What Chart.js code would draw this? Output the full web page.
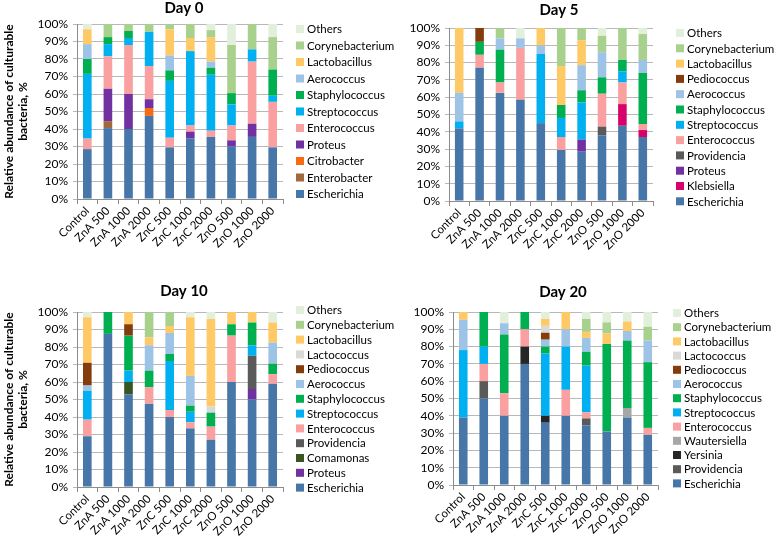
<!DOCTYPE html>
<html>
<head>
<meta charset="utf-8">
<script src="https://cdn.jsdelivr.net/npm/chart.js@4.4.1/dist/chart.umd.min.js"></script>
<style>
  body { margin: 0; background: #fff; width: 778px; height: 545px; position: relative; overflow: hidden; }
  .panel { position: absolute; }
</style>
</head>
<body>
<div class="panel" style="left:0;top:0"><canvas id="day0" width="402" height="272"></canvas></div>
<div class="panel" style="left:390px;top:0"><canvas id="day5" width="388" height="272"></canvas></div>
<div class="panel" style="left:0;top:272px"><canvas id="day10" width="402" height="273"></canvas></div>
<div class="panel" style="left:390px;top:272px"><canvas id="day20" width="388" height="273"></canvas></div>
<script>
// treatments on the x axis
const categories = ["Control", "ZnA 500", "ZnA 1000", "ZnA 2000", "ZnC 500", "ZnC 1000", "ZnC 2000", "ZnO 500", "ZnO 1000", "ZnO 2000"];

// Day 0 - segment sizes (%), bottom to top
const day0Genera = ["Escherichia", "Enterobacter", "Citrobacter", "Proteus", "Enterococcus", "Streptococcus", "Staphylococcus", "Aerococcus", "Lactobacillus", "Corynebacterium", "Others"];
const day0Values = [
  [28.5, 40.5, 40, 47.5, 29.5, 34.5, 35.5, 30, 35.5, 29.5],
  [0, 4, 0, 0, 0, 0, 0, 0, 0, 0],
  [0, 0, 0, 4.5, 0, 0, 0, 0, 0, 0],
  [0, 18.5, 20, 5, 0, 4, 0, 3.5, 7.5, 0],
  [6, 18.5, 28, 19, 5.5, 3.5, 3.5, 8.5, 35.5, 26],
  [37, 7, 4, 19.5, 32.5, 42.5, 32, 12, 7, 3.5],
  [8.5, 4, 4, 0, 6, 0, 4, 6.5, 0, 15],
  [8.5, 0, 0, 0, 8.5, 0, 3.5, 0, 0, 0],
  [8.5, 0, 0, 0, 15, 7.5, 14, 0, 0, 0],
  [0, 7.5, 4, 4.5, 3, 8, 4, 27.5, 14.5, 18.5],
  [3, 0, 0, 0, 0, 0, 3.5, 12, 0, 7.5]
];

// Day 5
const day5Genera = ["Escherichia", "Klebsiella", "Proteus", "Providencia", "Enterococcus", "Streptococcus", "Staphylococcus", "Aerococcus", "Pediococcus", "Lactobacillus", "Corynebacterium", "Others"];
const day5Values = [
  [42, 77, 62.5, 58.5, 45, 29.5, 28.5, 38, 43.5, 37],
  [0, 0, 0, 0, 0, 0, 0, 0, 12.5, 4],
  [0, 0, 0, 0, 0, 0, 7, 0, 0, 0],
  [0, 0, 0, 0, 0, 0, 0, 5, 0, 0],
  [0, 7.5, 6, 30, 0, 7.5, 0, 19, 12.5, 3.5],
  [4, 0, 0, 0, 40, 11, 21.5, 0, 6.5, 0],
  [0, 7.5, 19, 0, 0, 7.5, 7, 9.5, 6.5, 29.5],
  [16.5, 0, 6.5, 5.5, 5, 0, 14.5, 14.5, 0, 7.5],
  [0, 8, 0, 0, 0, 0, 0, 0, 0, 0],
  [37.5, 0, 0, 0, 10, 22.5, 14.5, 0, 0, 0],
  [0, 0, 6, 0, 0, 22, 7, 9.5, 18.5, 15],
  [0, 0, 0, 6, 0, 0, 0, 4.5, 0, 3.5]
];

// Day 10
const day10Genera = ["Escherichia", "Proteus", "Comamonas", "Providencia", "Enterococcus", "Streptococcus", "Staphylococcus", "Aerococcus", "Pediococcus", "Lactococcus", "Lactobacillus", "Corynebacterium", "Others"];
const day10Values = [
  [29, 87.5, 53, 47.5, 40, 33.5, 27, 60, 50, 59],
  [0, 0, 0, 0, 0, 0, 0, 0, 6, 0],
  [0, 0, 7, 0, 0, 0, 0, 0, 0, 0],
  [0, 0, 0, 0, 0, 0, 0, 0, 19, 0],
  [9.5, 0, 0, 9.5, 4, 3.5, 7.5, 26.5, 0, 5.5],
  [16.5, 0, 6.5, 0, 28, 6, 0, 0, 6, 0],
  [0, 12.5, 20, 9.5, 4, 3.5, 8, 6.5, 13, 6],
  [3, 0, 0, 14.5, 12, 17, 0, 0, 0, 12],
  [13, 0, 6.5, 0, 0, 0, 0, 0, 0, 0],
  [0, 0, 0, 0, 0, 0, 3.5, 0, 0, 0],
  [26, 0, 7, 4.5, 4, 33.5, 50, 7, 6, 11.5],
  [0, 0, 0, 14.5, 8, 0, 0, 0, 0, 0],
  [3, 0, 0, 0, 0, 3, 4, 0, 0, 6]
];

// Day 20
const day20Genera = ["Escherichia", "Providencia", "Yersinia", "Wautersiella", "Enterococcus", "Streptococcus", "Staphylococcus", "Aerococcus", "Pediococcus", "Lactococcus", "Lactobacillus", "Corynebacterium", "Others"];
const day20Values = [
  [39, 50, 40, 70, 36, 40, 34.5, 31, 39, 29],
  [0, 10, 0, 0, 0, 0, 4, 0, 0, 0],
  [0, 0, 0, 10, 4, 0, 0, 0, 0, 0],
  [0, 0, 0, 0, 0, 0, 0, 0, 5.5, 0],
  [0, 10, 13, 10, 0, 15, 3.5, 0, 0, 4],
  [39, 10, 0, 0, 36, 25, 27, 0, 0, 0],
  [0, 20, 34, 10, 4, 0, 8, 50.5, 39, 38],
  [17.5, 0, 6.5, 0, 4, 10, 8, 0, 5.5, 12.5],
  [0, 0, 0, 0, 4, 0, 0, 0, 0, 0],
  [0, 0, 0, 0, 4, 0, 0, 0, 0, 0],
  [4.5, 0, 0, 0, 4, 10, 3.5, 6, 5.5, 0],
  [0, 0, 0, 0, 0, 0, 7.5, 6.5, 0, 8],
  [0, 0, 6.5, 0, 4, 0, 4, 6, 5.5, 8.5]
];

const genusColors = {
  Escherichia: "#4677a8",
  Enterobacter: "#a06a3e",
  Citrobacter: "#fa6a10",
  Klebsiella: "#d8006b",
  Proteus: "#7131a1",
  Comamonas: "#375623",
  Providencia: "#5a5a5a",
  Yersinia: "#262626",
  Wautersiella: "#a6a6a6",
  Enterococcus: "#fba0a0",
  Streptococcus: "#00b0f0",
  Staphylococcus: "#00b050",
  Aerococcus: "#9dc3e6",
  Pediococcus: "#843c0c",
  Lactococcus: "#d9d9d9",
  Lactobacillus: "#ffc966",
  Corynebacterium: "#a9d18e",
  Others: "#e2efda"
};

Chart.defaults.font.family = "Lato, 'Open Sans', sans-serif";
Chart.defaults.color = "#000";

// draws the panel heading and the key on the right (top entry = last series)
const panelDecor = {
  id: "panelDecor",
  afterDraw(chart, args, opts) {
    const ctx = chart.ctx;
    ctx.save();
    ctx.fillStyle = "#000";
    ctx.font = "bold 15px Lato, sans-serif";
    ctx.textAlign = "center";
    ctx.textBaseline = "middle";
    ctx.fillText(opts.title, opts.titleX, opts.titleY);

    ctx.font = "11.5px Lato, sans-serif";
    ctx.textAlign = "left";
    const sets = chart.data.datasets.slice().reverse();
    sets.forEach((ds, i) => {
      const y = opts.keyY + i * opts.keyGap;
      ctx.fillStyle = ds.backgroundColor;
      ctx.fillRect(opts.keyX, y - 4, 8, 8);
      ctx.fillStyle = "#000";
      ctx.fillText(ds.label, opts.keyX + 11, y + 0.5);
    });
    ctx.restore();
  }
};

function makePanel(id, genera, values, p) {
  new Chart(document.getElementById(id), {
    type: "bar",
    data: {
      labels: categories,
      datasets: genera.map((g, i) => ({
        label: g,
        data: values[i],
        backgroundColor: genusColors[g],
        barPercentage: 0.42,
        categoryPercentage: 1
      }))
    },
    options: {
      responsive: false,
      animation: false,
      layout: { padding: { top: p.top, right: p.right, bottom: p.bottom, left: 0 } },
      plugins: {
        legend: { display: false },
        tooltip: { enabled: false },
        panelDecor: p.decor
      },
      scales: {
        x: {
          stacked: true,
          grid: { drawOnChartArea: false, color: "#8c8c8c", tickLength: 5 },
          border: { color: "#8c8c8c" },
          ticks: { autoSkip: false, minRotation: 45, maxRotation: 45, font: { size: 11.5 }, padding: 0 },
          afterFit: s => { s.height = p.xh; }
        },
        y: {
          stacked: true,
          min: 0,
          max: 100,
          ticks: { autoSkip: false, stepSize: 10, callback: v => v + "%", font: { size: 12 }, padding: 5 },
          grid: { color: "#b8b8b8", tickLength: 4 },
          border: { color: "#8c8c8c" },
          title: {
            display: p.yTitle,
            text: ["Relative abundance of culturable", "bacteria, %"],
            font: { size: 12, weight: "bold" },
            padding: { top: 2, bottom: 0 }
          },
          afterFit: s => { s.width = p.left; }
        }
      }
    },
    plugins: [panelDecor]
  });
}

makePanel("day0", day0Genera, day0Values, {
  top: 24, bottom: 13, xh: 60, left: 77, right: 119, yTitle: true,
  decor: { title: "Day 0", titleX: 184, titleY: 8, keyX: 296, keyY: 29, keyGap: 16.5 }
});
makePanel("day5", day5Genera, day5Values, {
  top: 28, bottom: 11, xh: 60, left: 59, right: 125, yTitle: false,
  decor: { title: "Day 5", titleX: 169, titleY: 10.5, keyX: 286, keyY: 33, keyGap: 15.3 }
});
makePanel("day10", day10Genera, day10Values, {
  top: 40, bottom: 0, xh: 58, left: 77, right: 119, yTitle: true,
  decor: { title: "Day 10", titleX: 184, titleY: 19, keyX: 296, keyY: 38, keyGap: 14.8 }
});
makePanel("day20", day20Genera, day20Values, {
  top: 40, bottom: 2, xh: 58, left: 63, right: 120, yTitle: false,
  decor: { title: "Day 20", titleX: 173, titleY: 20.5, keyX: 283, keyY: 41, keyGap: 14.2 }
});
</script>
</body>
</html>
